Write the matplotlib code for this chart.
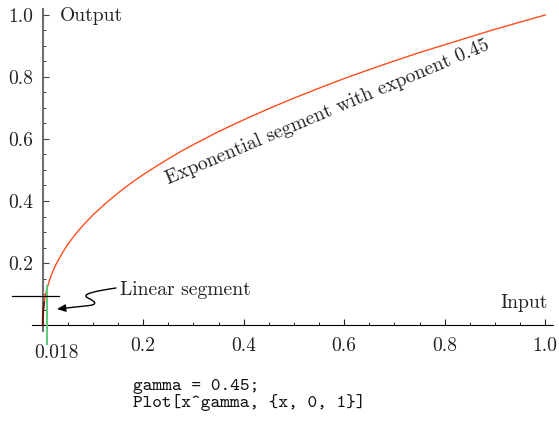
import matplotlib
matplotlib.use("Agg")
import matplotlib.pyplot as plt
from matplotlib.path import Path
from matplotlib.patches import FancyArrowPatch
from matplotlib.ticker import FixedLocator, FixedFormatter

plt.rcParams['font.family'] = ['cmr10', 'DejaVu Serif']
plt.rcParams['mathtext.fontset'] = 'cm'
plt.rcParams['axes.formatter.use_mathtext'] = True

# ---- data ----
curve_x = [0.0, 0.0005, 0.001, 0.002, 0.003, 0.004, 0.006, 0.008, 0.01, 0.014,
           0.018, 0.022, 0.026, 0.03, 0.04, 0.05, 0.06, 0.075, 0.087, 0.1,
           0.125, 0.15, 0.175, 0.2, 0.225, 0.25, 0.275, 0.3, 0.35, 0.4, 0.45,
           0.5, 0.55, 0.6, 0.65, 0.7, 0.75, 0.8, 0.85, 0.9, 0.95, 1.0]
curve_y = [0.0, 0.033, 0.045, 0.061, 0.073, 0.083, 0.100, 0.114, 0.126, 0.147,
           0.164, 0.180, 0.194, 0.206, 0.235, 0.260, 0.282, 0.312, 0.333, 0.355,
           0.392, 0.426, 0.457, 0.485, 0.511, 0.536, 0.560, 0.582, 0.624, 0.662,
           0.698, 0.732, 0.764, 0.795, 0.824, 0.852, 0.879, 0.904, 0.929, 0.954,
           0.977, 1.0]
dark_x = [0.0, 0.0005, 0.001, 0.002, 0.003]
dark_y = [0.0, 0.033, 0.045, 0.061, 0.073]

marker_x = 0.009          # green vertical line (labelled 0.018)
marker_y = [-0.06, 0.127]
level_y = 0.094           # black horizontal line
level_x = [-0.061, 0.033]

major_ticks = [0.2, 0.4, 0.6, 0.8, 1.0]
major_labels = ['0.2', '0.4', '0.6', '0.8', '1.0']
minor_ticks = [0.05, 0.1, 0.15, 0.25, 0.3, 0.35, 0.45, 0.5, 0.55,
               0.65, 0.7, 0.75, 0.85, 0.9, 0.95]

W, H = 559, 423
fig = plt.figure(figsize=(W / 100, H / 100), dpi=100)
# axes placed so that x:0->px 42.7, 1->px 545 ; y:0->px 325, 1->px 15
x0p, sx = 42.7, 502.5
y0p, sy = 325.0, 310.0
xlim = (-0.025, 1.02)
ylim = (-0.06, 1.03)
left = (x0p + xlim[0] * sx) / W
right = (x0p + xlim[1] * sx) / W
bottom = (H - (y0p - ylim[0] * sy)) / H
top = (H - (y0p - ylim[1] * sy)) / H
ax = fig.add_axes([left, bottom, right - left, top - bottom])
ax.set_xlim(*xlim)
ax.set_ylim(*ylim)
ax.patch.set_alpha(0)

for s in ['top', 'right']:
    ax.spines[s].set_visible(False)
ax.spines['left'].set_position(('data', 0))
ax.spines['bottom'].set_position(('data', 0))
ax.spines['left'].set_bounds(-0.02, 1.02)
ax.spines['bottom'].set_bounds(-0.022, 1.015)
ax.spines['left'].set_color('#6e6e6e')
ax.spines['left'].set_linewidth(1.5)
ax.spines['bottom'].set_color('black')
ax.spines['bottom'].set_linewidth(0.8)

FS = 14.1
for axis in (ax.xaxis, ax.yaxis):
    axis.set_major_locator(FixedLocator(major_ticks))
    axis.set_major_formatter(FixedFormatter(major_labels))
    axis.set_minor_locator(FixedLocator(minor_ticks))
ax.tick_params(axis='both', which='major', direction='in', length=4.5, width=0.8,
               labelsize=FS, colors='#222222')
ax.tick_params(axis='both', which='minor', direction='in', length=2.3, width=0.7,
               colors='#222222')
ax.tick_params(axis='x', which='major', pad=8.5)
ax.tick_params(axis='y', which='major', pad=6.5, color='#444444')
ax.tick_params(axis='y', which='minor', color='#444444')

# curve
ax.plot(curve_x, curve_y, color='#ff4d1a', lw=1.0, zorder=3, clip_on=False)
ax.plot(dark_x, dark_y, color='#5a1208', lw=1.3, zorder=4, clip_on=False)

# markers
ax.plot([marker_x, marker_x], marker_y, color='#5cc97a', lw=1.4, zorder=5, clip_on=False)
ax.plot(level_x, [level_y, level_y], color='black', lw=0.9, zorder=5, clip_on=False)

# texts
txt = dict(color='#222222', fontsize=FS)
ax.text(0.0345, 0.982, 'Output', ha='left', va='baseline', **txt)
ax.text(1.006, 0.055, 'Input', ha='right', va='baseline', **txt)
ax.text(0.154, 0.113, 'Linear segment', ha='left', va='center', **txt)
ax.text(0.0275, -0.09, '0.018', ha='center', va='center', clip_on=False, **txt)
ax.text(0.566, 0.687, 'Exponential segment with exponent 0.45', rotation=22.8,
        rotation_mode='anchor', ha='center', va='center', **txt)

fig.text(133 / W, 1 - 390 / H, 'gamma = 0.45;', family='cmtt10', fontsize=13.3,
         color='#111111', ha='left', va='baseline')
fig.text(133 / W, 1 - 407 / H, 'Plot[x^gamma, {x, 0, 1}]', family='cmtt10',
         fontsize=13.3, color='#111111', ha='left', va='baseline')

# squiggly arrow (annotation geometry in pixel units, converted to data)
def px(p):
    return ((p[0] - x0p) / sx, (y0p - p[1]) / sy)

verts = [px(p) for p in [(116, 288), (96, 291), (80, 294), (88, 298),
                         (96, 302), (99, 305), (85, 306), (57, 309)]]
codes = [Path.MOVETO, Path.CURVE4, Path.CURVE4, Path.CURVE4,
         Path.CURVE4, Path.CURVE4, Path.CURVE4, Path.LINETO]
arrow = FancyArrowPatch(path=Path(verts, codes),
                        arrowstyle='-|>,head_length=5,head_width=2.2',
                        color='black', lw=1.0, zorder=6, clip_on=False)
ax.add_patch(arrow)

fig.savefig('out.png', dpi=100)
